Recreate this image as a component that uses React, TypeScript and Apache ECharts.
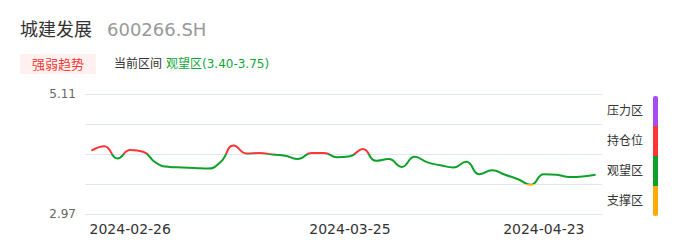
import React, { useEffect, useRef } from "react";
import * as echarts from "echarts";

const dates: string[] = [
  "2024-02-21", "2024-02-22", "2024-02-23", "2024-02-26", "2024-02-27",
  "2024-02-28", "2024-02-29", "2024-03-04", "2024-03-05", "2024-03-06",
  "2024-03-07", "2024-03-11", "2024-03-12", "2024-03-13", "2024-03-14",
  "2024-03-18", "2024-03-19", "2024-03-20", "2024-03-21", "2024-03-22",
  "2024-03-25", "2024-03-26", "2024-03-27", "2024-03-28", "2024-04-01",
  "2024-04-02", "2024-04-03", "2024-04-08", "2024-04-09", "2024-04-11",
  "2024-04-15", "2024-04-16", "2024-04-17", "2024-04-18", "2024-04-22",
  "2024-04-23", "2024-04-24", "2024-04-25", "2024-04-26", "2024-04-29",
];

const prices: number[] = [
  4.10, 4.18, 3.96, 4.11, 4.08, 3.88, 3.81, 3.80, 3.79, 3.78,
  3.90, 4.19, 4.05, 4.06, 4.03, 4.01, 3.95, 4.06, 4.06, 3.98,
  4.00, 4.13, 3.92, 3.95, 3.81, 3.99, 3.89, 3.84, 3.80, 3.90,
  3.68, 3.75, 3.67, 3.59, 3.49, 3.68, 3.67, 3.63, 3.64, 3.67,
];

const labelIndices: number[] = [3, 20, 35];

const axisMin = 2.97;
const axisMax = 5.11;
const zoneBounds: number[] = [2.97, 3.505, 4.04, 4.575, 5.11];
const zoneNames: string[] = ["支撑区", "观望区", "持仓位", "压力区"];
const zoneColors: string[] = ["#ffaa05", "#0ea12a", "#ff3437", "#a64cf5"];

const FONT = "'DejaVu Sans', 'Noto Sans CJK SC', sans-serif";

export default function App() {
  const ref = useRef<HTMLDivElement>(null);

  useEffect(() => {
    document.body.style.margin = "0";
    if (!ref.current) return;
    const chart = echarts.init(ref.current, null, { renderer: "svg" });

    const base = axisMin;
    const span = axisMax - axisMin;
    const step = span / 4;

    const gridTop = 94;
    const gridBottom = 214;
    const barTop = 96;
    const barH = (gridBottom - gridTop) / 4;

    const legendGraphics: any[] = [];
    for (let k = 0; k < 4; k++) {
      const zi = 3 - k; // top to bottom
      const y0 = barTop + k * barH;
      legendGraphics.push({
        type: "rect",
        shape: { x: 653, y: y0, width: 5, height: barH + (k < 3 ? 0.5 : 0), r: k === 0 ? [2, 2, 0, 0] : k === 3 ? [0, 0, 2, 2] : 0 },
        style: { fill: zoneColors[zi] },
      });
      legendGraphics.push({
        type: "text",
        x: 607,
        y: y0 + barH / 2,
        style: {
          text: zoneNames[zi],
          fill: "#333",
          font: `12px ${FONT}`,
          textVerticalAlign: "middle",
          verticalAlign: "middle",
        },
      });
    }

    chart.setOption({
      animation: false,
      textStyle: { fontFamily: FONT },
      grid: { left: 85, right: 84, top: gridTop, bottom: 247 - gridBottom, containLabel: false },
      graphic: [
        {
          type: "text",
          x: 20,
          y: 29,
          style: { text: "城建发展", fill: "#333", font: `18px ${FONT}`, verticalAlign: "middle" },
        },
        {
          type: "text",
          x: 107,
          y: 29,
          style: { text: "600266.SH", fill: "#999", font: `18px ${FONT}`, verticalAlign: "middle" },
        },
        {
          type: "rect",
          shape: { x: 20, y: 54, width: 76, height: 20 },
          style: { fill: "#fff1ef" },
        },
        {
          type: "text",
          x: 58,
          y: 64,
          style: { text: "强弱趋势", fill: "#fb3a3a", font: `13px ${FONT}`, align: "center", verticalAlign: "middle" },
        },
        {
          type: "text",
          x: 114,
          y: 64,
          style: { text: "当前区间", fill: "#333", font: `12px ${FONT}`, verticalAlign: "middle" },
        },
        {
          type: "text",
          x: 166,
          y: 64,
          style: { text: "观望区(3.40-3.75)", fill: "#12a53a", font: `12px ${FONT}`, verticalAlign: "middle" },
        },
        ...legendGraphics,
      ],
      xAxis: {
        type: "category",
        data: dates,
        boundaryGap: true,
        axisLine: { show: false },
        axisTick: { show: false },
        splitLine: { show: false },
        axisLabel: {
          interval: (i: number) => labelIndices.includes(i),
          color: "#333",
          fontSize: 14,
          margin: 8,
          fontFamily: FONT,
        },
      },
      yAxis: {
        type: "value",
        min: 0,
        max: span,
        interval: step,
        axisLine: { show: false },
        axisTick: { show: false },
        splitLine: { show: true, lineStyle: { color: "#e0e6f1", width: 1 } },
        axisLabel: {
          color: "#666",
          fontSize: 12,
          margin: 9,
          fontFamily: FONT,
          formatter: (v: number) => {
            if (Math.abs(v) < 1e-6) return axisMin.toFixed(2);
            if (Math.abs(v - span) < 1e-6) return axisMax.toFixed(2);
            return "";
          },
        },
      },
      visualMap: {
        type: "piecewise",
        show: false,
        dimension: 1,
        seriesIndex: 0,
        pieces: [
          { lt: zoneBounds[1] - base, color: zoneColors[0] },
          { gte: zoneBounds[1] - base, lt: zoneBounds[2] - base, color: zoneColors[1] },
          { gte: zoneBounds[2] - base, lt: zoneBounds[3] - base, color: zoneColors[2] },
          { gte: zoneBounds[3] - base, color: zoneColors[3] },
        ],
      },
      series: [
        {
          type: "line",
          data: prices.map((p) => +(p - base).toFixed(4)),
          smooth: true,
          showSymbol: false,
          symbol: "none",
          lineStyle: { width: 2 },
        },
      ],
    });

    return () => chart.dispose();
  }, []);

  return <div ref={ref} style={{ width: 686, height: 247 }} />;
}
